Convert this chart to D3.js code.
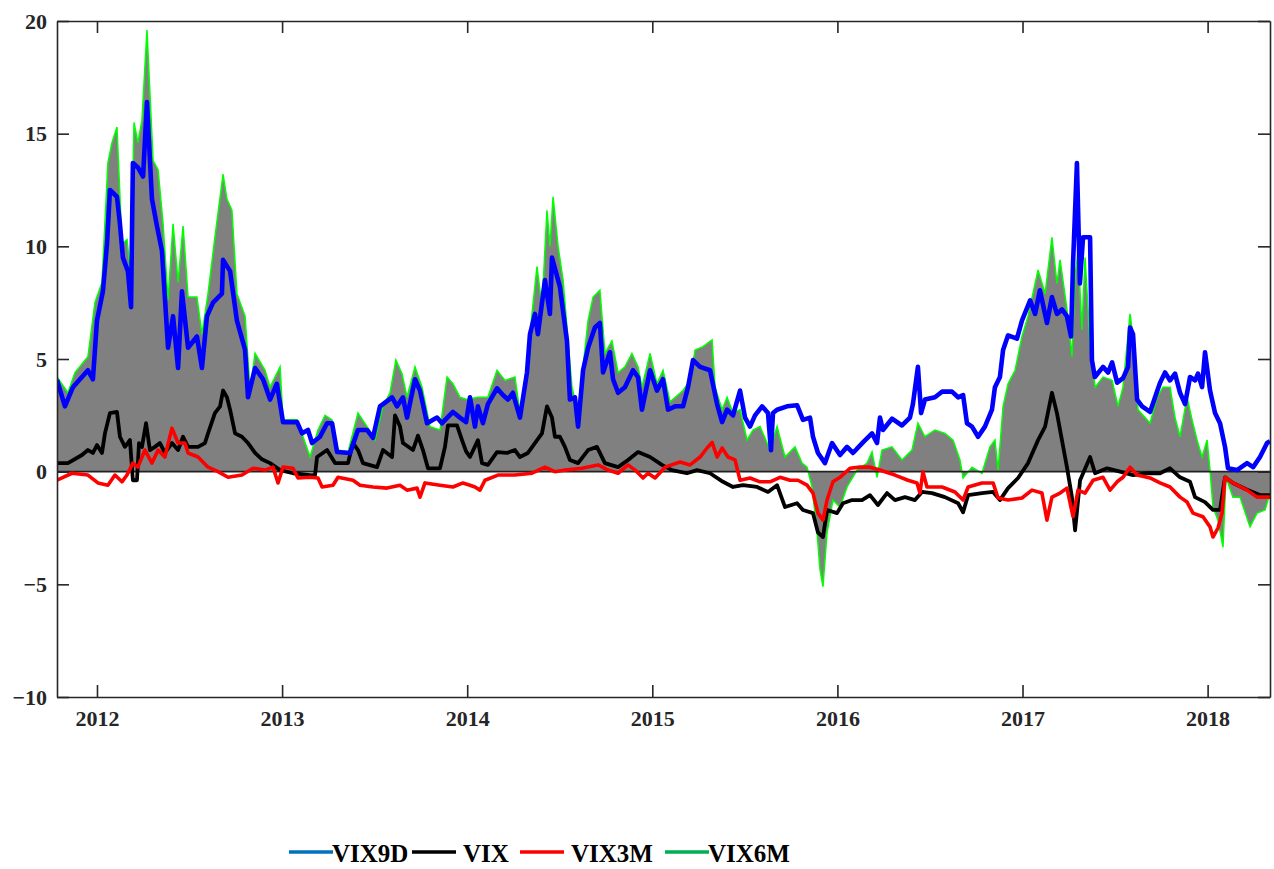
<!DOCTYPE html>
<html>
<head>
<meta charset="utf-8">
<script src="https://cdn.jsdelivr.net/npm/d3@7/dist/d3.min.js"></script>
<style>
	body { margin: 0; background: #fff; }
	text { font-family: "Liberation Serif", "Times New Roman", serif; font-weight: bold; }
</style>
</head>
<body>
<div id="root"></div>
<script>
const yearTicks = [2012, 2013, 2014, 2015, 2016, 2017, 2018]
const valueTicks = [-10, -5, 0, 5, 10, 15, 20]
const seriesNames = ['VIX9D', 'VIX', 'VIX3M', 'VIX6M']

// [decimal year, value]
const vix9d = [
	[2011.784,4.07],[2011.827,2.9],[2011.870,3.75],[2011.951,4.5],[2011.978,4.1],[2012.000,6.7],[2012.032,8.0],
	[2012.054,10.1],[2012.070,12.5],[2012.108,12.2],[2012.124,11.0],[2012.140,9.5],[2012.167,8.9],[2012.184,7.3],
	[2012.194,13.7],[2012.221,13.5],[2012.249,13.1],[2012.270,16.4],[2012.297,12.1],[2012.324,10.9],[2012.351,9.8],
	[2012.384,5.5],[2012.411,6.9],[2012.438,4.6],[2012.459,8.0],[2012.492,5.5],[2012.540,6.0],[2012.567,4.6],
	[2012.594,6.9],[2012.627,7.5],[2012.675,7.9],[2012.681,9.4],[2012.719,8.9],[2012.756,6.7],[2012.800,5.4],
	[2012.816,3.3],[2012.854,4.6],[2012.897,4.1],[2012.935,3.2],[2012.972,3.9],[2013.005,2.2],[2013.081,2.2],
	[2013.108,1.7],[2013.140,1.85],[2013.162,1.27],[2013.205,1.55],[2013.243,2.15],[2013.270,2.15],[2013.297,0.87],
	[2013.367,0.83],[2013.410,1.85],[2013.459,1.85],[2013.491,1.5],[2013.529,2.9],[2013.594,3.3],[2013.621,2.9],
	[2013.653,3.3],[2013.675,2.4],[2013.718,4.1],[2013.745,3.6],[2013.783,2.15],[2013.837,2.4],[2013.864,2.15],
	[2013.923,2.65],[2013.961,2.4],[2013.994,2.2],[2014.015,3.3],[2014.042,2.0],[2014.058,2.9],[2014.085,2.15],
	[2014.112,3.0],[2014.161,3.7],[2014.193,3.4],[2014.220,3.2],[2014.247,3.5],[2014.285,2.4],[2014.323,4.4],
	[2014.339,6.1],[2014.366,7.0],[2014.382,6.1],[2014.420,8.5],[2014.447,7.0],[2014.458,9.5],[2014.501,8.2],
	[2014.539,5.8],[2014.555,3.2],[2014.582,3.3],[2014.599,2.0],[2014.626,4.5],[2014.653,5.5],[2014.690,6.4],
	[2014.717,6.6],[2014.734,4.4],[2014.771,5.3],[2014.788,4.1],[2014.815,3.5],[2014.852,3.75],[2014.896,4.5],
	[2014.923,4.2],[2014.944,2.75],[2014.988,4.5],[2015.025,3.6],[2015.058,4.1],[2015.085,2.75],[2015.123,2.9],
	[2015.166,2.9],[2015.193,3.75],[2015.220,4.95],[2015.258,4.65],[2015.312,4.5],[2015.350,3.0],[2015.377,2.2],
	[2015.404,2.75],[2015.436,2.5],[2015.474,3.6],[2015.501,2.4],[2015.528,2.0],[2015.555,2.5],[2015.593,2.9],
	[2015.625,2.6],[2015.641,0.95],[2015.652,2.6],[2015.674,2.75],[2015.728,2.9],[2015.782,2.95],[2015.814,2.3],
	[2015.852,2.4],[2015.868,1.55],[2015.895,0.83],[2015.933,0.38],[2015.971,1.27],[2016.014,0.74],[2016.052,1.1],
	[2016.084,0.83],[2016.138,1.3],[2016.187,1.7],[2016.214,1.27],[2016.230,2.4],[2016.246,1.85],[2016.295,2.35],
	[2016.349,2.05],[2016.392,2.4],[2016.408,3.0],[2016.435,4.65],[2016.452,2.6],[2016.473,3.2],[2016.527,3.3],
	[2016.565,3.55],[2016.619,3.55],[2016.652,3.3],[2016.679,3.4],[2016.700,2.15],[2016.727,2.0],[2016.760,1.55],
	[2016.797,2.0],[2016.835,2.75],[2016.851,3.75],[2016.878,4.2],[2016.895,5.4],[2016.922,6.05],[2016.970,5.9],
	[2016.997,6.7],[2017.041,7.6],[2017.068,7.0],[2017.094,8.05],[2017.132,6.6],[2017.159,7.75],[2017.186,7.0],
	[2017.213,7.2],[2017.240,6.9],[2017.262,6.0],[2017.273,9.25],[2017.294,13.7],[2017.310,8.35],[2017.327,10.4],
	[2017.365,10.4],[2017.375,4.95],[2017.391,4.2],[2017.435,4.65],[2017.462,4.4],[2017.484,4.85],[2017.511,3.95],
	[2017.543,4.15],[2017.570,4.65],[2017.581,6.4],[2017.597,6.1],[2017.619,3.2],[2017.646,2.9],[2017.689,2.65],
	[2017.716,3.3],[2017.743,3.95],[2017.770,4.4],[2017.797,4.05],[2017.824,4.35],[2017.851,3.5],[2017.878,3.0],
	[2017.905,4.2],[2017.932,4.05],[2017.948,4.35],[2017.970,3.75],[2017.986,5.3],[2018.013,3.6],[2018.040,2.6],
	[2018.067,2.15],[2018.094,1.1],[2018.110,0.15],[2018.159,0.07],[2018.213,0.38],[2018.246,0.2],[2018.283,0.65],
	[2018.321,1.27],[2018.337,1.35]
]

const vix = [
	[2011.784,0.38],[2011.843,0.38],[2011.919,0.74],[2011.951,0.96],[2011.978,0.83],[2012.000,1.18],[2012.027,0.83],
	[2012.043,1.7],[2012.070,2.6],[2012.108,2.65],[2012.124,1.55],[2012.151,1.1],[2012.178,1.4],[2012.194,-0.38],
	[2012.216,-0.38],[2012.227,1.27],[2012.243,1.1],[2012.265,2.15],[2012.286,0.96],[2012.313,1.1],[2012.340,1.27],
	[2012.367,0.83],[2012.405,1.27],[2012.438,0.96],[2012.465,1.55],[2012.492,1.1],[2012.546,1.1],[2012.583,1.27],
	[2012.600,1.7],[2012.637,2.6],[2012.665,2.9],[2012.681,3.6],[2012.702,3.3],[2012.719,2.75],[2012.746,1.7],
	[2012.783,1.55],[2012.816,1.27],[2012.854,0.83],[2012.891,0.55],[2012.935,0.38],[2012.989,0.07],[2013.059,-0.07],
	[2013.151,-0.15],[2013.178,-0.15],[2013.189,0.65],[2013.243,0.96],[2013.286,0.38],[2013.356,0.38],[2013.383,1.27],
	[2013.410,0.96],[2013.437,0.38],[2013.513,0.2],[2013.545,0.96],[2013.594,0.65],[2013.610,2.5],[2013.637,2.0],
	[2013.653,1.27],[2013.707,0.96],[2013.734,1.6],[2013.761,0.96],[2013.788,0.15],[2013.853,0.15],[2013.880,1.1],
	[2013.896,2.05],[2013.945,2.05],[2013.972,1.4],[2013.994,0.9],[2014.015,0.65],[2014.058,1.4],[2014.080,0.38],
	[2014.112,0.3],[2014.161,0.87],[2014.215,0.83],[2014.258,0.96],[2014.285,0.65],[2014.328,0.83],[2014.366,1.27],
	[2014.404,1.7],[2014.431,2.9],[2014.458,2.4],[2014.474,1.55],[2014.501,1.55],[2014.528,1.1],[2014.555,0.52],
	[2014.599,0.38],[2014.653,0.96],[2014.701,1.1],[2014.744,0.38],[2014.815,0.2],[2014.869,0.52],[2014.923,0.87],
	[2014.988,0.65],[2015.052,0.3],[2015.106,0.07],[2015.187,-0.07],[2015.242,0.07],[2015.312,-0.07],[2015.382,-0.45],
	[2015.436,-0.68],[2015.490,-0.6],[2015.566,-0.68],[2015.625,-0.9],[2015.674,-0.6],[2015.717,-1.57],[2015.782,-1.4],
	[2015.814,-1.7],[2015.868,-1.84],[2015.895,-2.7],[2015.922,-2.9],[2015.944,-1.7],[2015.998,-1.84],[2016.030,-1.4],
	[2016.079,-1.26],[2016.133,-1.26],[2016.176,-1.04],[2016.219,-1.48],[2016.268,-0.95],[2016.311,-1.26],[2016.365,-1.13],
	[2016.419,-1.26],[2016.457,-0.9],[2016.511,-0.95],[2016.581,-1.13],[2016.652,-1.4],[2016.679,-1.8],[2016.706,-1.04],
	[2016.781,-0.95],[2016.841,-0.9],[2016.878,-1.26],[2016.922,-0.73],[2016.976,-0.28],[2017.030,0.38],[2017.084,1.4],
	[2017.122,2.0],[2017.159,3.5],[2017.186,2.6],[2017.213,1.4],[2017.240,0.2],[2017.267,-1.13],[2017.284,-2.6],
	[2017.311,-0.38],[2017.365,0.65],[2017.392,-0.07],[2017.457,0.15],[2017.527,0.0],[2017.597,-0.15],[2017.673,-0.07],
	[2017.743,-0.07],[2017.797,0.15],[2017.851,-0.25],[2017.905,-0.45],[2017.932,-1.13],[2017.986,-1.35],[2018.029,-1.7],
	[2018.067,-1.7],[2018.094,-0.25],[2018.137,-0.5],[2018.213,-0.8],[2018.283,-1.04],[2018.337,-1.04]
]

const vix3m = [
	[2011.784,-0.38],[2011.865,-0.07],[2011.951,-0.15],[2012.005,-0.5],[2012.059,-0.6],[2012.097,-0.15],[2012.135,-0.45],
	[2012.162,-0.15],[2012.194,0.38],[2012.221,0.2],[2012.259,0.96],[2012.297,0.38],[2012.330,0.96],[2012.367,0.65],
	[2012.405,1.93],[2012.438,1.27],[2012.475,1.27],[2012.492,0.83],[2012.546,0.65],[2012.600,0.2],[2012.654,0.0],
	[2012.708,-0.25],[2012.783,-0.15],[2012.843,0.15],[2012.908,0.07],[2012.951,0.2],[2012.978,-0.5],[2013.005,0.2],
	[2013.059,0.15],[2013.086,-0.28],[2013.151,-0.25],[2013.194,-0.28],[2013.216,-0.68],[2013.275,-0.6],[2013.302,-0.25],
	[2013.383,-0.38],[2013.421,-0.6],[2013.491,-0.68],[2013.567,-0.73],[2013.637,-0.6],[2013.675,-0.82],[2013.729,-0.73],
	[2013.745,-1.13],[2013.772,-0.5],[2013.853,-0.6],[2013.923,-0.68],[2013.977,-0.5],[2014.015,-0.6],[2014.042,-0.68],
	[2014.069,-0.82],[2014.096,-0.38],[2014.166,-0.15],[2014.258,-0.15],[2014.350,-0.07],[2014.420,0.2],[2014.474,0.0],
	[2014.528,0.07],[2014.620,0.15],[2014.707,0.3],[2014.761,0.07],[2014.815,-0.07],[2014.869,0.3],[2014.907,0.07],
	[2014.950,-0.28],[2014.977,-0.07],[2015.015,-0.28],[2015.069,0.2],[2015.150,0.43],[2015.204,0.3],[2015.258,0.65],
	[2015.296,1.05],[2015.323,1.3],[2015.350,0.65],[2015.377,1.05],[2015.409,0.65],[2015.447,0.52],[2015.474,-0.38],
	[2015.528,-0.28],[2015.582,-0.45],[2015.636,-0.45],[2015.690,-0.25],[2015.744,-0.38],[2015.787,-0.38],[2015.836,-0.6],
	[2015.868,-0.95],[2015.895,-1.84],[2015.922,-2.15],[2015.944,-1.26],[2015.976,-0.45],[2016.014,-0.25],[2016.068,0.15],
	[2016.122,0.2],[2016.176,0.2],[2016.230,0.07],[2016.257,0.0],[2016.311,-0.15],[2016.381,-0.38],[2016.430,-0.5],
	[2016.446,-0.95],[2016.462,0.0],[2016.484,-0.68],[2016.565,-0.68],[2016.635,-0.9],[2016.679,-1.26],[2016.706,-0.68],
	[2016.781,-0.5],[2016.841,-0.5],[2016.868,-1.17],[2016.922,-1.26],[2016.997,-1.17],[2017.051,-0.82],[2017.105,-0.95],
	[2017.132,-2.15],[2017.159,-1.13],[2017.203,-0.95],[2017.240,-0.73],[2017.273,-2.0],[2017.300,-0.82],[2017.338,-0.95],
	[2017.381,-0.38],[2017.435,-0.25],[2017.473,-0.82],[2017.511,-0.45],[2017.543,-0.25],[2017.581,0.2],[2017.619,-0.15],
	[2017.689,-0.28],[2017.743,-0.5],[2017.797,-0.68],[2017.851,-1.13],[2017.889,-1.35],[2017.921,-1.84],[2017.975,-2.0],
	[2018.013,-2.45],[2018.029,-2.9],[2018.056,-2.5],[2018.078,-1.84],[2018.094,-0.25],[2018.137,-0.5],[2018.213,-0.82],
	[2018.267,-1.13],[2018.337,-1.13]
]

const vix6m = [
	[2011.784,4.2],[2011.843,3.5],[2011.881,4.4],[2011.951,5.1],[2011.989,7.5],[2012.027,8.4],[2012.059,13.7],
	[2012.081,14.6],[2012.108,15.3],[2012.135,10.1],[2012.162,10.3],[2012.184,8.6],[2012.200,15.5],[2012.221,14.6],
	[2012.243,15.6],[2012.270,19.6],[2012.286,16.8],[2012.303,13.8],[2012.330,13.4],[2012.357,11.0],[2012.384,7.6],
	[2012.411,11.0],[2012.438,8.4],[2012.465,10.9],[2012.492,7.75],[2012.540,7.75],[2012.567,6.1],[2012.600,7.9],
	[2012.637,10.4],[2012.681,13.2],[2012.702,12.1],[2012.729,11.6],[2012.756,7.9],[2012.800,6.9],[2012.827,3.6],
	[2012.854,5.25],[2012.908,4.5],[2012.935,3.75],[2012.989,4.65],[2013.005,2.3],[2013.081,2.3],[2013.113,1.55],
	[2013.151,0.65],[2013.194,1.85],[2013.232,2.5],[2013.270,2.3],[2013.302,0.96],[2013.356,0.87],[2013.410,2.6],
	[2013.459,2.0],[2013.502,1.4],[2013.545,2.9],[2013.583,3.5],[2013.615,4.95],[2013.648,4.35],[2013.675,3.3],
	[2013.718,4.65],[2013.756,3.75],[2013.799,2.0],[2013.853,1.85],[2013.891,4.2],[2013.923,3.9],[2013.961,3.3],
	[2013.999,3.2],[2014.058,3.3],[2014.112,3.3],[2014.161,4.5],[2014.204,4.05],[2014.258,4.2],[2014.285,2.6],
	[2014.323,4.65],[2014.350,7.0],[2014.377,9.1],[2014.404,7.3],[2014.431,11.6],[2014.447,10.0],[2014.464,12.2],
	[2014.491,10.0],[2014.518,8.5],[2014.545,5.8],[2014.566,3.75],[2014.599,2.6],[2014.626,4.65],[2014.653,6.7],
	[2014.680,7.75],[2014.717,8.05],[2014.744,5.25],[2014.782,5.8],[2014.815,4.4],[2014.852,4.65],[2014.890,5.25],
	[2014.923,4.65],[2014.944,3.75],[2014.988,5.25],[2015.025,3.9],[2015.058,4.5],[2015.096,3.1],[2015.166,3.6],
	[2015.204,4.05],[2015.231,5.4],[2015.274,5.55],[2015.323,5.85],[2015.339,3.75],[2015.377,2.75],[2015.404,3.3],
	[2015.436,2.6],[2015.474,2.75],[2015.512,1.4],[2015.544,1.85],[2015.582,2.0],[2015.636,0.96],[2015.674,2.0],
	[2015.717,0.65],[2015.771,1.1],[2015.809,0.38],[2015.836,0.2],[2015.863,-0.68],[2015.890,-2.7],[2015.906,-4.35],
	[2015.922,-5.1],[2015.944,-2.7],[2015.976,-1.26],[2016.014,-1.57],[2016.052,-0.68],[2016.106,0.07],[2016.160,0.38],
	[2016.187,0.87],[2016.214,-0.25],[2016.241,0.96],[2016.295,1.1],[2016.349,0.52],[2016.403,0.96],[2016.435,2.15],
	[2016.473,1.55],[2016.527,1.85],[2016.581,1.7],[2016.625,1.4],[2016.662,0.52],[2016.679,-0.28],[2016.727,0.2],
	[2016.781,-0.07],[2016.824,1.1],[2016.851,1.4],[2016.868,0.07],[2016.895,2.9],[2016.922,3.9],[2016.960,4.5],
	[2016.997,6.0],[2017.030,6.9],[2017.084,8.95],[2017.122,7.9],[2017.159,10.4],[2017.186,8.35],[2017.203,9.4],
	[2017.240,7.2],[2017.267,5.1],[2017.284,8.65],[2017.300,9.8],[2017.321,6.3],[2017.338,9.5],[2017.365,5.55],
	[2017.392,3.75],[2017.435,4.2],[2017.484,4.05],[2017.516,2.9],[2017.543,3.75],[2017.581,7.0],[2017.597,6.0],
	[2017.624,2.75],[2017.662,2.4],[2017.689,2.15],[2017.727,3.3],[2017.759,3.75],[2017.797,3.75],[2017.824,2.4],
	[2017.851,1.55],[2017.889,3.3],[2017.916,2.3],[2017.943,1.4],[2017.970,0.65],[2017.997,1.4],[2018.013,0.07],
	[2018.029,-1.57],[2018.056,-2.15],[2018.083,-3.35],[2018.099,-0.25],[2018.137,-1.13],[2018.175,-1.13],[2018.229,-2.45],
	[2018.267,-1.84],[2018.310,-1.7],[2018.337,-0.95]
]

const C = {
	width: 1274,
	height: 869,
	left: 57,
	right: 1270,
	top: 21,
	bottom: 697,
	xDomain: [2011.784, 2018.337],
	yDomain: [-10, 20],
}

const svg = d3.select('#root').append('svg')
	.attr('width', C.width)
	.attr('height', C.height)

const xScale = d3.scaleLinear().domain(C.xDomain).range([C.left, C.right])
const yScale = d3.scaleLinear().domain(C.yDomain).range([C.bottom, C.top])

svg.append('clipPath').attr('id', 'plotClip')
	.append('rect')
	.attr('x', C.left).attr('y', C.top)
	.attr('width', C.right - C.left).attr('height', C.bottom - C.top)

const plot = svg.append('g').attr('clip-path', 'url(#plotClip)')

// -- gray area under VIX6M --
const area = d3.area()
	.x(d => xScale(d[0]))
	.y0(yScale(0))
	.y1(d => yScale(d[1]))

plot.append('path')
	.datum(vix6m)
	.attr('d', area)
	.attr('fill', '#808080')

const line = d3.line()
	.x(d => xScale(d[0]))
	.y(d => yScale(d[1]))

plot.append('path')
	.datum(vix6m)
	.attr('d', line)
	.attr('fill', 'none')
	.attr('stroke', '#00ff00')
	.attr('stroke-width', 1.5)

plot.append('line')
	.attr('x1', C.left).attr('x2', C.right)
	.attr('y1', yScale(0)).attr('y2', yScale(0))
	.attr('stroke', '#222')
	.attr('stroke-width', 1.8)

const lines = [
	{ data: vix, color: '#000000', width: 3.8 },
	{ data: vix3m, color: '#ff0000', width: 3.6 },
	{ data: vix9d, color: '#0000ff', width: 4.6 },
]
lines.forEach(s => {
	plot.append('path')
		.datum(s.data)
		.attr('d', line)
		.attr('fill', 'none')
		.attr('stroke', s.color)
		.attr('stroke-width', s.width)
		.attr('stroke-linejoin', 'round')
})

// -- axis --
const tick = 12
const axisStyle = g => {
	g.select('.domain').attr('stroke', '#262626').attr('stroke-width', 1.6)
	g.selectAll('.tick line').attr('stroke', '#262626').attr('stroke-width', 1.6)
	g.selectAll('.tick text')
		.attr('fill', '#262626')
		.style('font-size', '22px')
		.style('font-family', '"Liberation Serif", "Times New Roman", serif')
		.style('font-weight', 'bold')
}

svg.append('g')
	.attr('transform', `translate(0,${C.bottom})`)
	.call(d3.axisBottom(xScale).tickValues(yearTicks).tickFormat(d3.format('d'))
		.tickSizeInner(-tick).tickSizeOuter(0).tickPadding(13))
	.call(axisStyle)

svg.append('g')
	.attr('transform', `translate(0,${C.top})`)
	.call(d3.axisTop(xScale).tickValues(yearTicks).tickFormat('')
		.tickSizeInner(-tick).tickSizeOuter(0))
	.call(axisStyle)

svg.append('g')
	.attr('transform', `translate(${C.left},0)`)
	.call(d3.axisLeft(yScale).tickValues(valueTicks).tickFormat(d3.format('d'))
		.tickSizeInner(-tick).tickSizeOuter(0).tickPadding(10))
	.call(axisStyle)

svg.append('g')
	.attr('transform', `translate(${C.right},0)`)
	.call(d3.axisRight(yScale).tickValues(valueTicks).tickFormat('')
		.tickSizeInner(-tick).tickSizeOuter(0))
	.call(axisStyle)

// -- legend --
const legendColors = ['#0072bd', '#000000', '#ff0000', '#00b050']
const legendX = [289, 412, 520, 665]
const legendY = 852

const legend = svg.append('g')
seriesNames.forEach((name, i) => {
	const lx = legendX[i]
	legend.append('line')
		.attr('x1', lx).attr('x2', lx + 44)
		.attr('y1', legendY).attr('y2', legendY)
		.attr('stroke', legendColors[i])
		.attr('stroke-width', 3.5)
	legend.append('text')
		.attr('x', lx + (i === 0 || i === 3 ? 43 : 51))
		.attr('y', legendY + 10)
		.attr('fill', '#000')
		.style('font-size', '25px')
		.text(name)
})
</script>
</body>
</html>
